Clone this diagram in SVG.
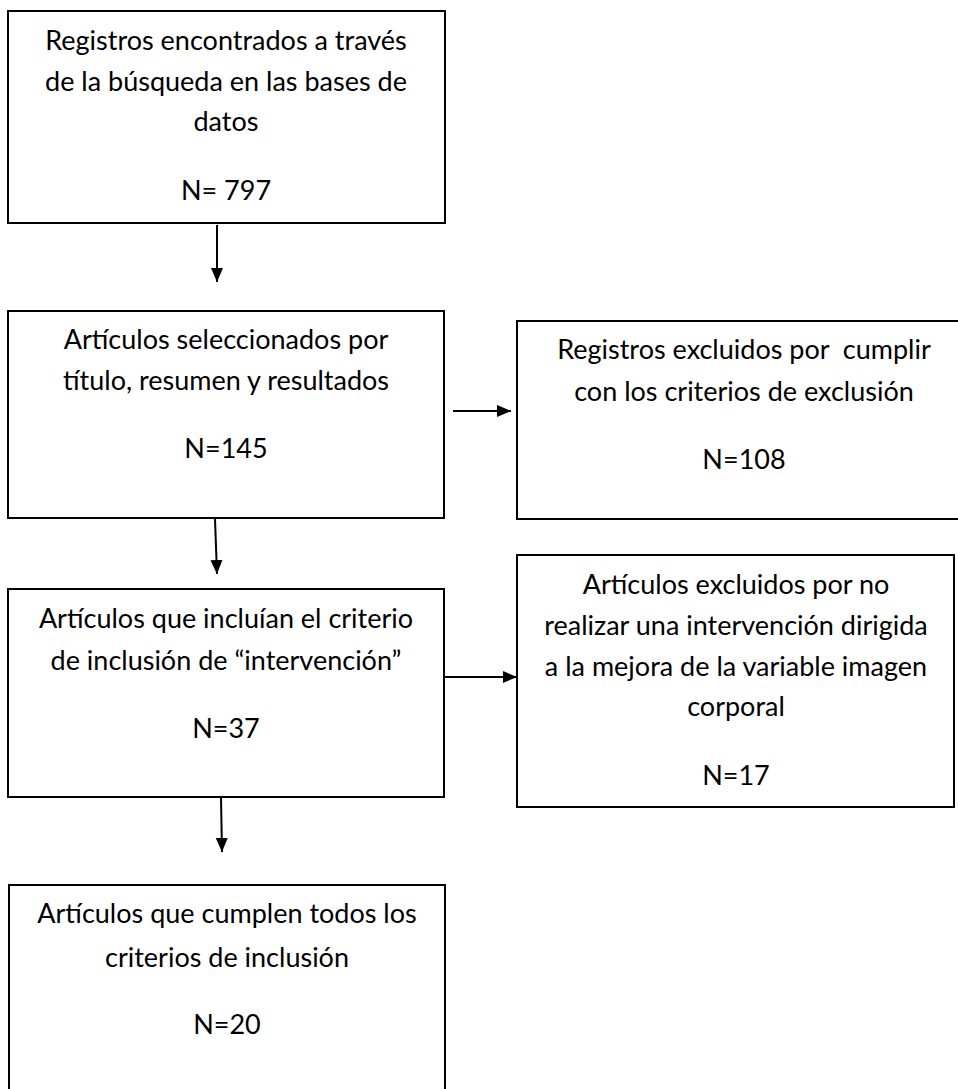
<svg xmlns="http://www.w3.org/2000/svg" width="958" height="1089" viewBox="0 0 958 1089">
<style>
.box{fill:#fff;stroke:#000;stroke-width:2}
.t{font-family:Lato,"Open Sans","Liberation Sans",sans-serif;font-size:27px;fill:#000;text-anchor:middle;white-space:pre}
.c{stroke:#000;stroke-width:2;fill:none;marker-end:url(#ah)}
</style>
<defs>
<marker id="ah" markerUnits="userSpaceOnUse" markerWidth="14" markerHeight="14" viewBox="0 0 14 12" refX="14" refY="6" orient="auto">
<path d="M0,0 L14,6 L0,12 Z" fill="#000"/>
</marker>
</defs>
<rect width="958" height="1089" fill="#fff"/>
<g id="n1">
<rect class="box" x="8" y="11" width="437" height="212"/>
<text class="t" x="226" y="50">Registros encontrados a través</text>
<text class="t" x="226" y="91">de la búsqueda en las bases de</text>
<text class="t" x="226" y="131">datos</text>
<text class="t" x="226" y="200">N= 797</text>
</g>
<g id="n2">
<rect class="box" x="8" y="311" width="436" height="207"/>
<text class="t" x="226" y="349">Artículos seleccionados por</text>
<text class="t" x="226" y="390">título, resumen y resultados</text>
<text class="t" x="226" y="458">N=145</text>
</g>
<g id="n3">
<rect class="box" x="8" y="589" width="436" height="208"/>
<text class="t" x="226" y="628">Artículos que incluían el criterio</text>
<text class="t" x="226" y="670">de inclusión de “intervención”</text>
<text class="t" x="226" y="738">N=37</text>
</g>
<g id="n4">
<rect class="box" x="9" y="885" width="436" height="220"/>
<text class="t" x="227" y="923">Artículos que cumplen todos los</text>
<text class="t" x="227" y="967">criterios de inclusión</text>
<text class="t" x="227" y="1034">N=20</text>
</g>
<g id="n5">
<rect class="box" x="517" y="321" width="460" height="198"/>
<text class="t" x="744" y="359" xml:space="preserve">Registros excluidos por  cumplir</text>
<text class="t" x="744" y="401">con los criterios de exclusión</text>
<text class="t" x="744" y="469">N=108</text>
</g>
<g id="n6">
<rect class="box" x="517" y="555" width="437" height="252"/>
<text class="t" x="736" y="594">Artículos excluidos por no</text>
<text class="t" x="736" y="635">realizar una intervención dirigida</text>
<text class="t" x="736" y="676">a la mejora de la variable imagen</text>
<text class="t" x="736" y="716">corporal</text>
<text class="t" x="736" y="785">N=17</text>
</g>
<g id="connectors">
<line class="c" x1="217" y1="225" x2="217" y2="282"/>
<line class="c" x1="215" y1="519" x2="217" y2="574"/>
<line class="c" x1="221" y1="798" x2="222" y2="852"/>
<line class="c" x1="453" y1="411" x2="511" y2="411"/>
<line class="c" x1="444" y1="677" x2="517" y2="677"/>
</g>
</svg>
